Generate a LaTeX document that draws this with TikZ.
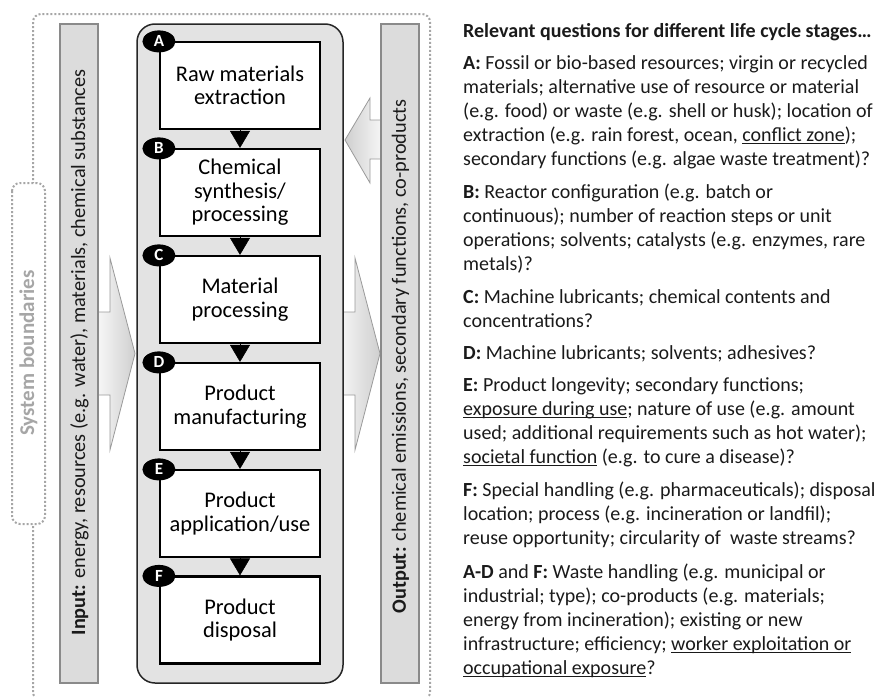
\documentclass[tikz,border=0pt]{standalone}
\usepackage{fontspec}
\setmainfont{Carlito}
\usetikzlibrary{arrows.meta,shapes.geometric,calc}
\definecolor{bgbox}{HTML}{E3E3E3}
\definecolor{barfill}{HTML}{DCDCDC}
\definecolor{barline}{HTML}{8A8A8A}
\definecolor{dotgray}{HTML}{A6A6A6}
\definecolor{arrline}{HTML}{9A9A9A}
\definecolor{arrtip}{HTML}{CFCFCF}
\definecolor{txt}{HTML}{1A1A1A}
\newcommand{\ulx}[1]{\setbox0=\hbox{#1}\rlap{\rule[-3.2pt]{\wd0}{1.3pt}}\box0\relax}
\tikzset{
  stagebox/.style={draw=black, line width=2.2pt, fill=white, minimum width=160pt, minimum height=87pt, align=center, font=\fontsize{22.4}{23.5}\selectfont, inner sep=0pt},
  badge/.style={shape=ellipse, fill=black, minimum width=33pt, minimum height=22pt, inner xsep=6pt, inner ysep=2pt, text=white, font=\fontsize{17}{17}\selectfont\bfseries},
  flow/.style={-{Triangle[length=17pt,width=20pt]}, line width=0.5pt, black},
  bar/.style={draw=barline, fill=barfill, line width=1.2pt, minimum width=659pt, minimum height=38pt, inner sep=0pt, rotate=90},
  boundary/.style={draw=dotgray, line width=2pt, dash pattern=on 2pt off 2pt, rounded corners=8pt},
  bigarrow/.style={draw=arrline, line width=0.8pt},
  para/.style={anchor=base west, align=left, inner sep=0pt, font=\fontsize{20}{24}\selectfont, text=txt},
  vlabel/.style={rotate=90, inner sep=0pt, font=\fontsize{20.3}{24}\selectfont, text=txt},
}
\begin{document}
\begin{tikzpicture}[x=1pt,y=-1pt]
\useasboundingbox (0,0) rectangle (880,696);
\clip (0,0) rectangle (880,696);
% system boundary
\draw[boundary] (33,14) rectangle (430,700);
\draw[boundary, fill=white] (12,183) rectangle (45,524);
\node[rotate=90, inner sep=0pt, font=\fontsize{21}{21}\selectfont\bfseries, text=dotgray] (sysb) at (28.5,353) {System boundaries};
% big arrows (under bars)
\path[left color=white, right color=arrtip] (90,312) -- (110,312) -- (110,258) -- (135,353.5) -- (110,450) -- (110,395) -- (90,395) -- cycle;
\draw[bigarrow] (90,312) -- (110,312) -- (110,258) -- (135,353.5) -- (110,450) -- (110,395) -- (90,395);
\path[left color=white, right color=arrtip] (330,312) -- (355,312) -- (355,258) -- (380,353.5) -- (355,450) -- (355,395) -- (330,395) -- cycle;
\draw[bigarrow] (330,312) -- (355,312) -- (355,258) -- (380,353.5) -- (355,450) -- (355,395) -- (330,395);
\path[left color=arrtip, right color=white] (390,120) -- (370,120) -- (370,98) -- (345,140) -- (370,183) -- (370,159) -- (390,159) -- cycle;
\draw[bigarrow] (390,120) -- (370,120) -- (370,98) -- (345,140) -- (370,183) -- (370,159) -- (390,159);
% bars
\node[bar] (inbar) at (79,353.5) {};
\node[bar] (outbar) at (400,353.5) {};
\node[vlabel] (intext) at (79.5,352.5) {\textbf{Input:} energy, resources (e.g. water), materials, chemical substances};
\node[vlabel] (outtext) at (400.5,356.5) {\textbf{Output:} chemical emissions, secondary functions, co-products};
% main box
\node[draw=black!85, fill=bgbox, line width=1.5pt, rounded corners=18pt, minimum width=206pt, minimum height=659pt, inner sep=0pt] (main) at (240,353.5) {};
% stages
\node[stagebox] (A) at (240,85.5) {Raw materials\\extraction};
\node[stagebox] (B) at (240,192.5) {Chemical\\synthesis/\\processing};
\node[stagebox] (C) at (240,299.5) {Material\\processing};
\node[stagebox] (D) at (240,406.5) {Product\\manufacturing};
\node[stagebox] (E) at (240,513.5) {Product\\application/use};
\node[stagebox] (F) at (240,620) {Product\\disposal};
\foreach \s/\t in {A/B,B/C,C/D,D/E,E/F} \draw[flow] (\s.south) -- (\t.north);
\foreach \s in {A,B,C,D,E,F} \node[badge] (b\s) at ($(\s.north west)+(0,0.5)$) {\s};
% questions (anchor = baseline of the last line)
\node[para, font=\fontsize{20}{24}\selectfont\bfseries] (qh) at (463,37) {Relevant questions for different life cycle stages…};
\node[para] (qA) at (463,165) {\textbf{A:} Fossil or bio-based resources; virgin or recycled\\materials; alternative use of resource or material\\(e.g. food) or waste (e.g. shell or husk); location of\\extraction (e.g. rain forest, ocean, \ulx{conflict zone});\\secondary functions (e.g. algae waste treatment)?};
\node[para] (qB) at (463,270) {\textbf{B:} Reactor configuration (e.g. batch or\\continuous); number of reaction steps or unit\\operations; solvents; catalysts (e.g. enzymes, rare\\metals)?};
\node[para] (qC) at (463,327) {\textbf{C:} Machine lubricants; chemical contents and\\concentrations?};
\node[para] (qD) at (463,359) {\textbf{D:} Machine lubricants; solvents; adhesives?};
\node[para] (qE) at (463,463) {\textbf{E:} Product longevity; secondary functions;\\\ulx{exposure during use}; nature of use (e.g. amount\\used; additional requirements such as hot water);\\\ulx{societal function} (e.g. to cure a disease)?};
\node[para] (qF) at (463,544) {\textbf{F:} Special handling (e.g. pharmaceuticals); disposal\\location; process (e.g. incineration or landfil);\\reuse opportunity; circularity of~ waste streams?};
\node[para] (qAD) at (463,674) {\textbf{A-D} and \textbf{F:} Waste handling (e.g. municipal or\\industrial; type); co-products (e.g. materials;\\energy from incineration); existing or new\\infrastructure; efficiency; \ulx{worker exploitation or}\\\ulx{occupational exposure}?};
\end{tikzpicture}
\end{document}
